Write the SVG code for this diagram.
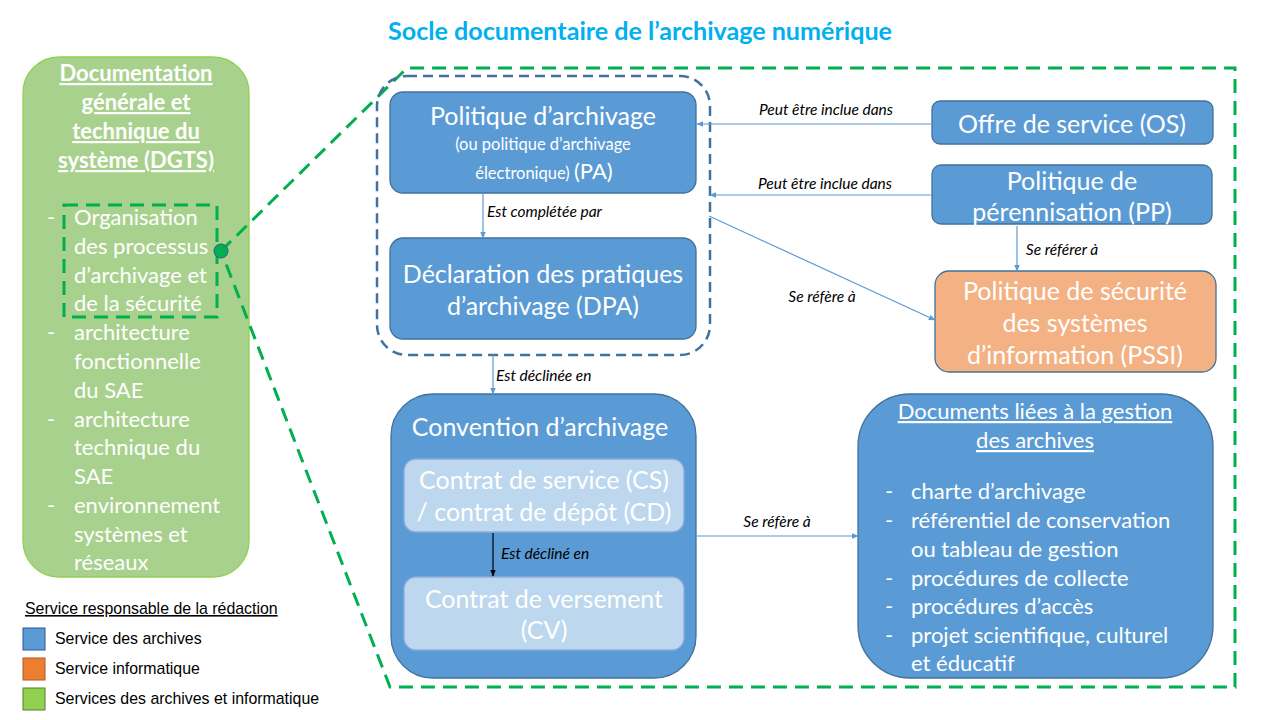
<svg xmlns="http://www.w3.org/2000/svg" width="1280" height="720" viewBox="0 0 1280 720">
<defs>
<style>
.t{font-family:Lato,"Open Sans",sans-serif;fill:#fff;}
.c{text-anchor:middle;}
.big{font-size:25px;}
.lst{font-size:22px;}
.lbl{font-family:Lato,"Open Sans",sans-serif;font-style:italic;font-size:15.5px;fill:#000;}
.leg{font-family:"Liberation Sans",Arial,sans-serif;font-size:15.9px;fill:#000;}
.box{fill:#5b9bd5;stroke:#41719c;stroke-width:1.3;}
.inner{fill:#bdd7ee;stroke:#8faadc;stroke-width:1.3;}
.con{stroke:#5b9bd5;stroke-width:1.2;fill:none;marker-end:url(#ab);}
</style>
<marker id="ab" viewBox="0 0 10 10" refX="9" refY="5" markerWidth="7" markerHeight="7" markerUnits="userSpaceOnUse" orient="auto"><path d="M0,1 L10,5 L0,9 z" fill="#5b9bd5"/></marker>
<marker id="ak" viewBox="0 0 10 10" refX="9" refY="5" markerWidth="7" markerHeight="7" markerUnits="userSpaceOnUse" orient="auto"><path d="M0,1 L10,5 L0,9 z" fill="#000"/></marker>
</defs>
<rect width="1280" height="720" fill="#fff"/>

<text x="640" y="40" class="c" font-family="Lato,'Open Sans',sans-serif" font-weight="bold" font-size="25.1" fill="#00b0f0">Socle documentaire de l’archivage numérique</text>

<!-- DGTS -->
<g id="dgts">
<rect x="23" y="57" width="226" height="520" rx="36" fill="#a9d18e" stroke="#92d050" stroke-width="1.3"/>
<g class="t c" font-weight="bold" font-size="22" text-decoration="underline">
<text x="136" y="81">Documentation</text>
<text x="136" y="110">générale et</text>
<text x="136" y="139">technique du</text>
<text x="136" y="168">système (DGTS)</text>
</g>
<g class="t lst">
<text x="47" y="225">-</text><text x="74" y="225">Organisation</text>
<text x="74" y="254">des processus</text>
<text x="74" y="283">d’archivage et</text>
<text x="74" y="311">de la sécurité</text>
<text x="47" y="340">-</text><text x="74" y="340">architecture</text>
<text x="74" y="369">fonctionnelle</text>
<text x="74" y="398">du SAE</text>
<text x="47" y="427">-</text><text x="74" y="427">architecture</text>
<text x="74" y="455">technique du</text>
<text x="74" y="484">SAE</text>
<text x="47" y="513">-</text><text x="74" y="513">environnement</text>
<text x="74" y="542">systèmes et</text>
<text x="74" y="570">réseaux</text>
</g>
</g>

<!-- zoom frame -->
<g id="zoomframe" fill="none" stroke="#00b050" stroke-width="3" stroke-dasharray="14 8">
<rect x="64" y="205" width="153" height="112"/>
<path d="M221,251 L407,68 L1235,68 L1235,687 L390,687 L221,251"/>
</g>
<circle cx="221" cy="251" r="7" fill="#00b050" stroke="#2f5597" stroke-width="1"/>

<!-- group container -->
<rect id="pagroup" x="377" y="76" width="333" height="279" rx="30" fill="none" stroke="#41719c" stroke-width="2.5" stroke-dasharray="10 6"/>

<g id="pa">
<rect class="box" x="390" y="92" width="306" height="101" rx="13"/>
<text class="t c big" x="543" y="125">Politique d’archivage</text>
<text class="t c" font-size="16.5" x="543" y="150">(ou politique d’archivage</text>
<text class="t c" x="544" y="179"><tspan font-size="16.5">électronique) </tspan><tspan font-size="22">(PA)</tspan></text>
</g>

<g id="dpa">
<rect class="box" x="390" y="238" width="306" height="101" rx="13"/>
<text class="t c big" x="543" y="283">Déclaration des pratiques</text>
<text class="t c big" x="543" y="315">d’archivage (DPA)</text>
</g>

<g id="os">
<rect class="box" x="932" y="101" width="281" height="43" rx="8"/>
<text class="t c big" x="1072" y="133">Offre de service (OS)</text>
</g>

<g id="pp">
<rect class="box" x="932" y="165" width="280" height="59" rx="9"/>
<text class="t c big" x="1072" y="190">Politique de</text>
<text class="t c big" x="1072" y="221">pérennisation (PP)</text>
</g>

<g id="pssi">
<rect x="935" y="271" width="281" height="101" rx="14" fill="#f4b183" stroke="#41719c" stroke-width="1.3"/>
<text class="t c big" x="1075" y="300">Politique de sécurité</text>
<text class="t c big" x="1075" y="332">des systèmes</text>
<text class="t c big" x="1075" y="364">d’information (PSSI)</text>
</g>

<g id="convention">
<rect class="box" x="391" y="394" width="305" height="284" rx="42"/>
<text class="t c big" x="540" y="436">Convention d’archivage</text>
</g>

<g id="cs">
<rect class="inner" x="404" y="459" width="280" height="73" rx="12"/>
<text class="t c big" x="544" y="489">Contrat de service (CS)</text>
<text class="t c big" x="544" y="521">/ contrat de dépôt (CD)</text>
</g>

<g id="cv">
<rect class="inner" x="404" y="577" width="280" height="73" rx="12"/>
<text class="t c big" x="544" y="608">Contrat de versement</text>
<text class="t c big" x="544" y="639">(CV)</text>
</g>

<g id="docs">
<rect class="box" x="858" y="394" width="355" height="284" rx="52"/>
<g class="t c lst" text-decoration="underline">
<text x="1035" y="419">Documents liées à la gestion</text>
<text x="1035" y="448">des archives</text>
</g>
<g class="t lst">
<text x="885" y="499">-</text><text x="911" y="499">charte d’archivage</text>
<text x="885" y="528">-</text><text x="911" y="528">référentiel de conservation</text>
<text x="911" y="557">ou tableau de gestion</text>
<text x="885" y="586">-</text><text x="911" y="586">procédures de collecte</text>
<text x="885" y="614">-</text><text x="911" y="614">procédures d’accès</text>
<text x="885" y="643">-</text><text x="911" y="643">projet scientifique, culturel</text>
<text x="911" y="671">et éducatif</text>
</g>
</g>

<g id="connectors">
<line class="con" x1="483" y1="193" x2="483" y2="238"/>
<line class="con" x1="493" y1="355" x2="493" y2="394"/>
<line class="con" x1="932" y1="124" x2="697" y2="124"/>
<line class="con" x1="932" y1="195" x2="710" y2="195"/>
<line class="con" x1="709" y1="216" x2="935" y2="320"/>
<line class="con" x1="1017" y1="226" x2="1017" y2="271"/>
<line class="con" x1="696" y1="536" x2="858" y2="536"/>
<line x1="493" y1="533" x2="493" y2="576" stroke="#000" stroke-width="1.2" marker-end="url(#ak)"/>
<text class="lbl" x="487" y="217">Est complétée par</text>
<text class="lbl" x="496" y="381">Est déclinée en</text>
<text class="lbl" x="826" y="115" text-anchor="middle">Peut être inclue dans</text>
<text class="lbl" x="825" y="189" text-anchor="middle">Peut être inclue dans</text>
<text class="lbl" x="822" y="302" text-anchor="middle">Se réfère à</text>
<text class="lbl" x="1062" y="255" text-anchor="middle">Se référer à</text>
<text class="lbl" x="777" y="527" text-anchor="middle">Se réfère à</text>
<text x="501" y="559" font-family="Lato,'Open Sans',sans-serif" font-style="italic" font-size="15.5" fill="#000">Est décliné en</text>
</g>

<g id="legend">
<text class="leg" x="25" y="614" text-decoration="underline">Service responsable de la rédaction</text>
<rect x="23" y="628" width="22" height="22" fill="#5b9bd5" stroke="#2f5597" stroke-width="1"/>
<rect x="23" y="658" width="22" height="22" fill="#ed7d31" stroke="#ae5a21" stroke-width="1"/>
<rect x="23" y="688" width="22" height="22" fill="#92d050" stroke="#507e32" stroke-width="1"/>
<text class="leg" x="55" y="644">Service des archives</text>
<text class="leg" x="55" y="674">Service informatique</text>
<text class="leg" x="55" y="704">Services des archives et informatique</text>
</g>
</svg>
